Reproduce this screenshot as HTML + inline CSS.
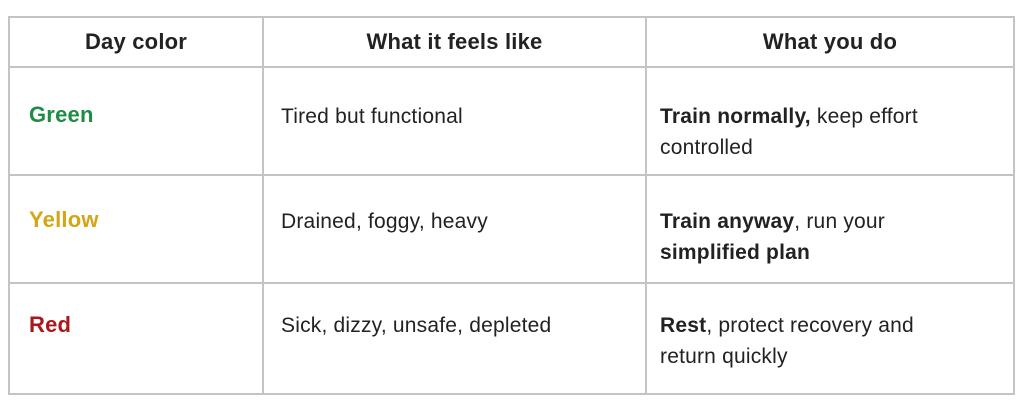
<!DOCTYPE html>
<html><head><style>
body{margin:0;width:1024px;height:408px;background:#fff;font-family:"Liberation Sans",sans-serif;color:#222;position:relative;overflow:hidden}
.l{position:absolute;background:#c4c4c8}
.t{position:absolute;font-size:21px;line-height:31px;white-space:nowrap;letter-spacing:0.2px}
.h{font-weight:bold;text-align:center;font-size:22px;letter-spacing:0.2px}
b{font-weight:bold}
</style></head><body>
<div class="l" style="left:8px;top:16px;width:1007px;height:2px"></div>
<div class="l" style="left:8px;top:66px;width:1007px;height:2px"></div>
<div class="l" style="left:8px;top:174px;width:1007px;height:2px"></div>
<div class="l" style="left:8px;top:282px;width:1007px;height:2px"></div>
<div class="l" style="left:8px;top:393px;width:1007px;height:2px"></div>
<div class="l" style="left:8px;top:16px;width:2px;height:379px"></div>
<div class="l" style="left:262px;top:16px;width:2px;height:379px"></div>
<div class="l" style="left:645px;top:16px;width:2px;height:379px"></div>
<div class="l" style="left:1013px;top:16px;width:2px;height:379px"></div>

<div class="t h" style="left:10px;width:252px;top:26px">Day color</div>
<div class="t h" style="left:264px;width:381px;top:26px">What it feels like</div>
<div class="t h" style="left:647px;width:366px;top:26px">What you do</div>

<div class="t" style="left:29px;top:99px;font-weight:bold;color:#1e8c45;font-size:22px">Green</div>
<div class="t" style="left:29px;top:204px;font-weight:bold;color:#d4a514;font-size:22px">Yellow</div>
<div class="t" style="left:29px;top:309px;font-weight:bold;color:#a8181c;font-size:22px">Red</div>

<div class="t" style="left:281px;top:101px">Tired but functional</div>
<div class="t" style="left:281px;top:206px">Drained, foggy, heavy</div>
<div class="t" style="left:281px;top:310px">Sick, dizzy, unsafe, depleted</div>

<div class="t" style="left:660px;top:101px"><b>Train normally,</b> keep effort<br>controlled</div>
<div class="t" style="left:660px;top:206px"><b>Train anyway</b>, run your<br><b>simplified plan</b></div>
<div class="t" style="left:660px;top:310px"><b>Rest</b>, protect recovery and<br>return quickly</div>
</body></html>
